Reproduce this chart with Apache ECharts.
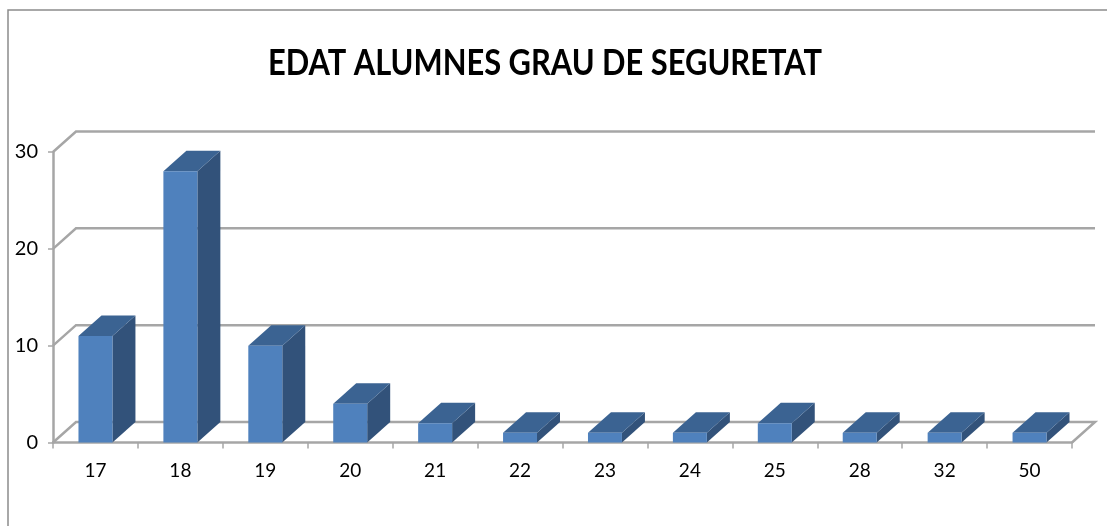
<!DOCTYPE html>
<html>
<head>
<meta charset="utf-8">
<style>
html, body { margin: 0; padding: 0; background: #fff; }
#container { width: 1107px; height: 526px; }
</style>
<script src="https://cdn.jsdelivr.net/npm/echarts@6/dist/echarts.min.js"></script>
</head>
<body>
<div id="container"></div>
<script>
var chartTitle = 'EDAT ALUMNES GRAU DE SEGURETAT';
var ages = ['17', '18', '19', '20', '21', '22', '23', '24', '25', '28', '32', '50'];
var counts = [11, 28, 10, 4, 2, 1, 1, 1, 2, 1, 1, 1];
var yTicks = [0, 10, 20, 30];

var myChart = echarts.init(document.getElementById('container'), null, { renderer: 'canvas' });

// depth of the fake 3d box
var depthX = 23;
var depthY = 20.5;
var gridColor = '#a6a6a6';
var fontName = 'Lato, sans-serif';

function renderWall(params, api) {
    var area = params.coordSys;
    var y = api.coord([0, api.value(0)])[1];
    var points = [[area.x, y], [area.x + depthX, y - depthY], [area.x + area.width + depthX, y - depthY]];
    if (api.value(0) === 0) {
        points.push([area.x + area.width, y]);
    }
    return {
        type: 'polyline',
        shape: { points: points },
        style: { fill: null, stroke: gridColor, lineWidth: 2.5 }
    };
}

function renderBar(params, api) {
    var top = api.coord([api.value(0), api.value(1)]);
    var base = api.coord([api.value(0), 0]);
    var w = api.size([1, 0])[0] * 0.4;
    var l = top[0] - w / 2;
    var r = top[0] + w / 2;
    return {
        type: 'group',
        children: [
            {
                type: 'polygon',
                shape: { points: [[r, top[1]], [r + depthX, top[1] - depthY], [r + depthX, base[1] - depthY], [r, base[1]]] },
                style: { fill: '#32527a' }
            },
            {
                type: 'polygon',
                shape: { points: [[l, top[1]], [l + depthX, top[1] - depthY], [r + depthX, top[1] - depthY], [r, top[1]]] },
                style: { fill: '#3b6392' }
            },
            {
                type: 'rect',
                shape: { x: l, y: top[1], width: w, height: base[1] - top[1] },
                style: { fill: '#4f81bd' }
            }
        ]
    };
}

var option = {
    animation: false,
    graphic: [
        {
            type: 'polyline',
            shape: { points: [[8, 526], [8, 10], [1107, 10]] },
            style: { fill: null, stroke: '#8c8c8c', lineWidth: 1.5 }
        },
        {
            // title is squeezed a bit, the original font is narrower
            type: 'text',
            x: 545,
            y: 63,
            scaleX: 0.857,
            style: {
                text: chartTitle,
                align: 'center',
                verticalAlign: 'middle',
                fill: '#000',
                font: 'bold 36px Lato, sans-serif'
            }
        }
    ],
    grid: { left: 53, right: 35, top: 152, bottom: 83.5 },
    xAxis: {
        type: 'category',
        data: ages,
        axisLine: { lineStyle: { color: gridColor, width: 2.5 } },
        axisTick: { show: true, alignWithLabel: false, length: 6, lineStyle: { color: gridColor, width: 1.5 } },
        axisLabel: { color: '#000', fontFamily: fontName, fontSize: 19, margin: 19 }
    },
    yAxis: {
        type: 'value',
        min: 0,
        max: 30,
        interval: 10,
        axisLine: { show: true, lineStyle: { color: gridColor, width: 2.5 } },
        axisTick: { show: true, length: 5, lineStyle: { color: gridColor, width: 1.5 } },
        axisLabel: { color: '#000', fontFamily: fontName, fontSize: 20, margin: 15 },
        splitLine: { show: false }
    },
    series: [
        {
            type: 'custom',
            renderItem: renderWall,
            clip: false,
            silent: true,
            encode: { y: 0 },
            data: yTicks.map(function (t) { return [t]; }),
            z: 1
        },
        {
            type: 'custom',
            renderItem: renderBar,
            clip: false,
            encode: { x: 0, y: 1 },
            data: counts.map(function (c, i) { return [i, c]; }),
            z: 2
        }
    ]
};

myChart.setOption(option);
window.addEventListener('resize', myChart.resize);
</script>
</body>
</html>
